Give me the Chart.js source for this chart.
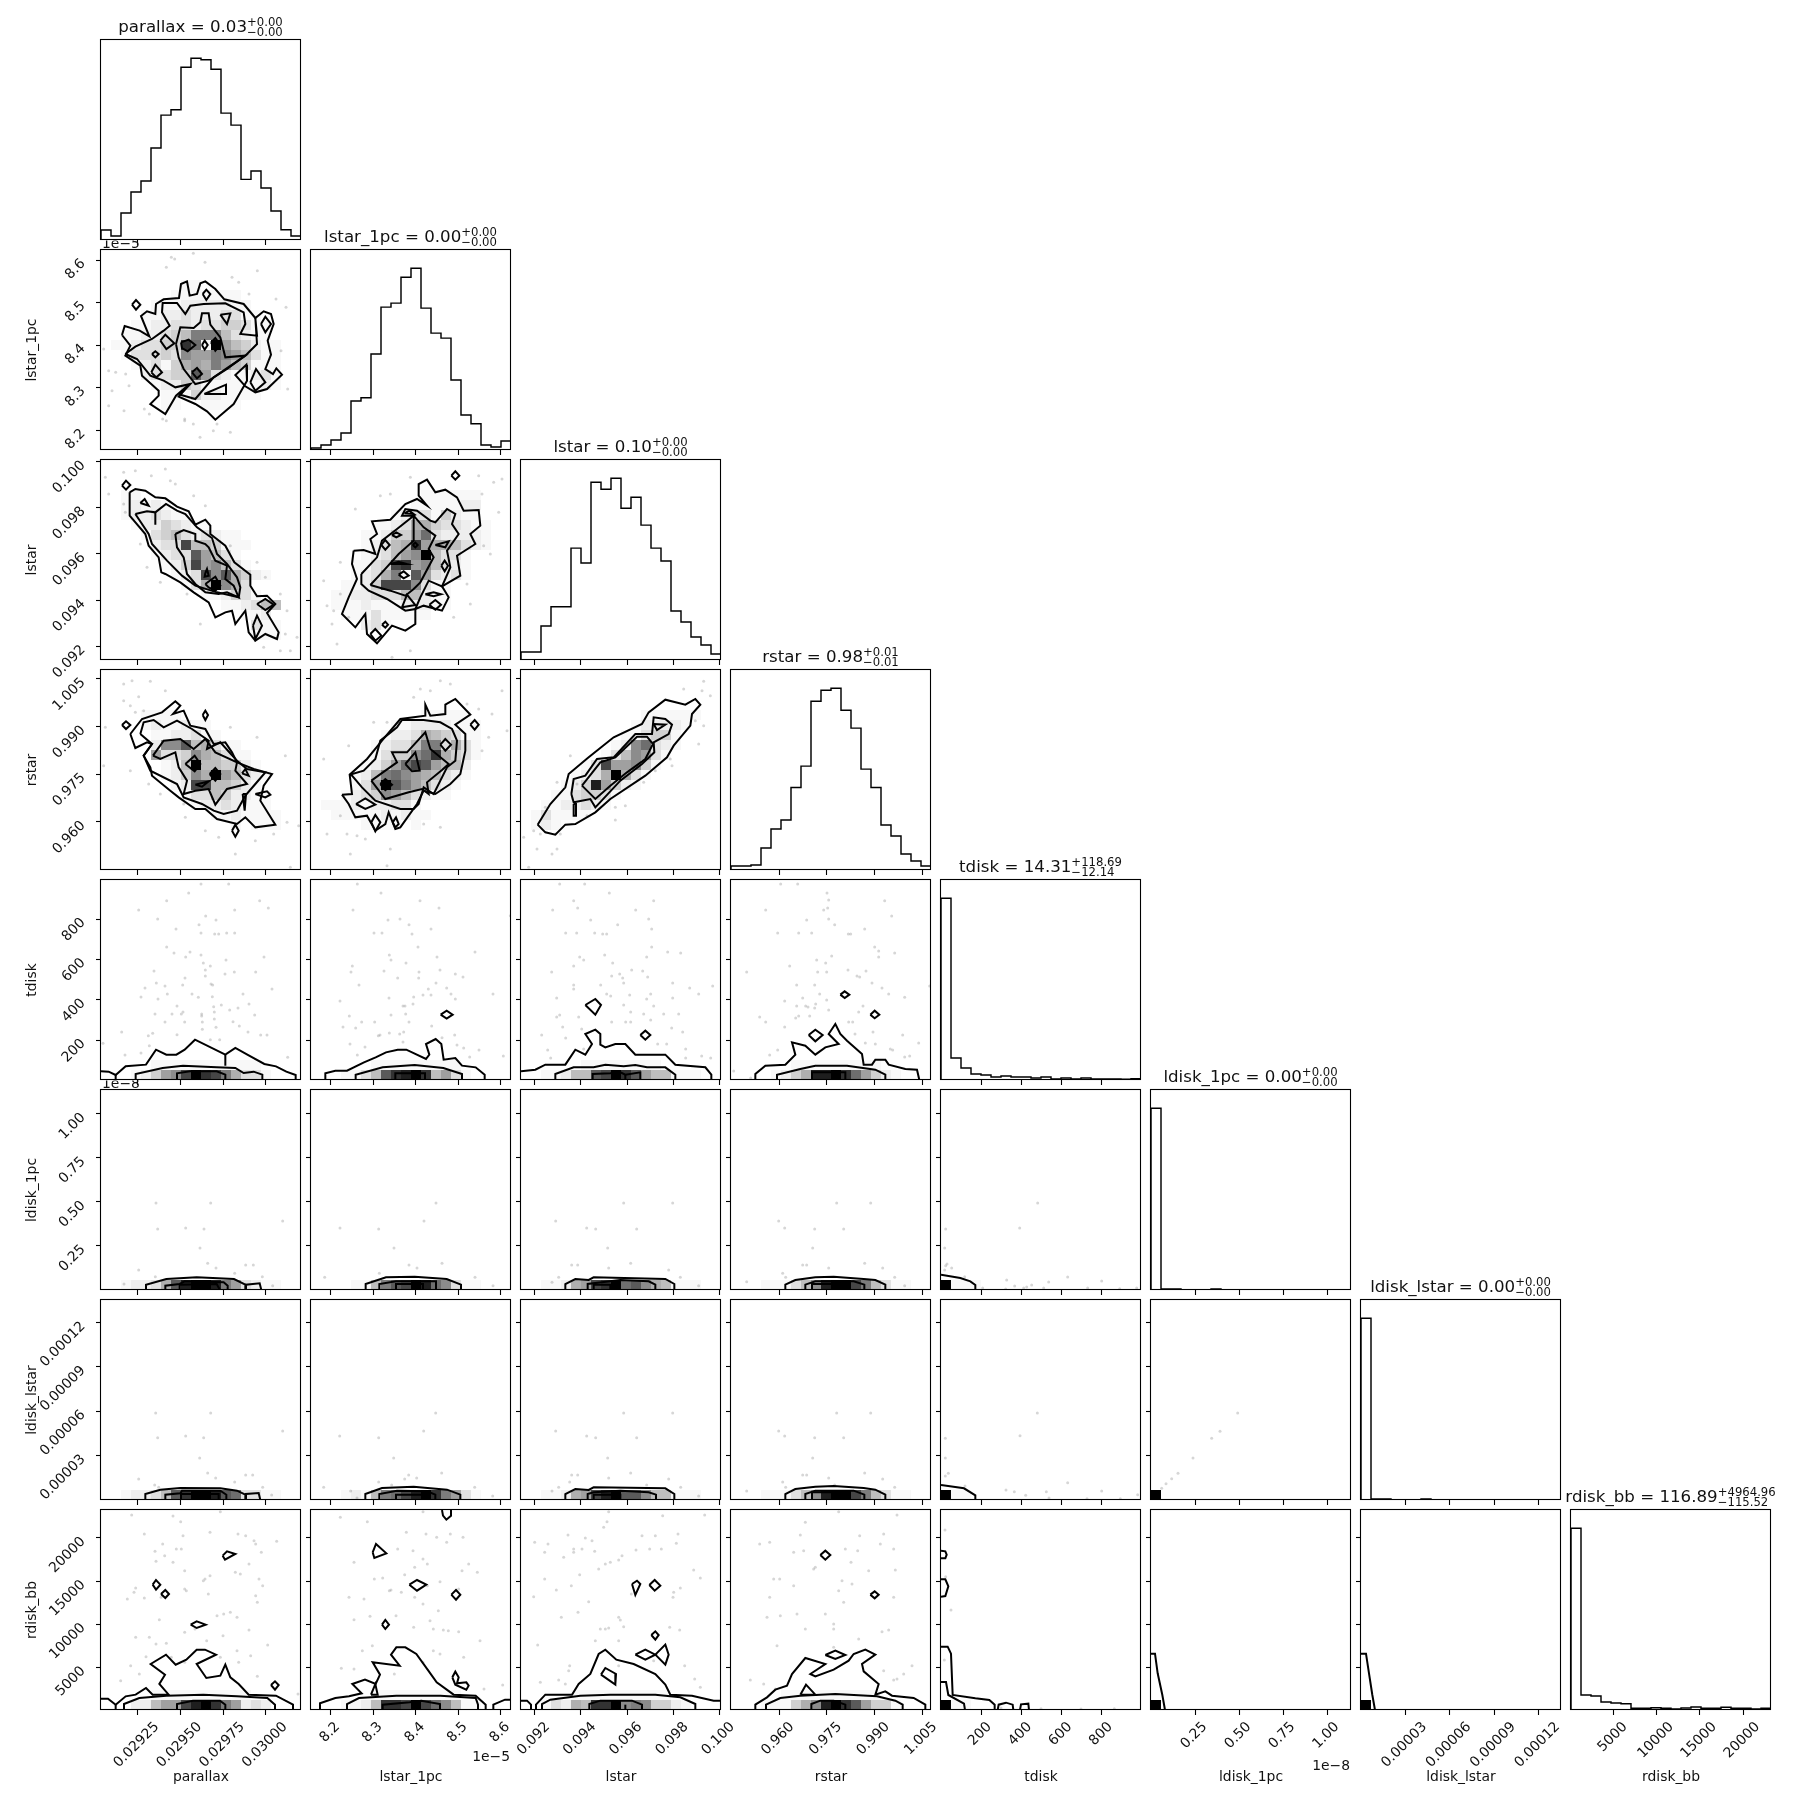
<!DOCTYPE html>
<html><head><meta charset="utf-8">
<style>html,body{margin:0;padding:0;background:#fff}#fig{position:relative;width:1809px;height:1809px;overflow:hidden}canvas{position:absolute}</style>
<script src="https://cdn.jsdelivr.net/npm/chart.js@4"></script>
</head><body><div id="fig"></div>
<script>
const names=["parallax","lstar_1pc","lstar","rstar","tdisk","ldisk_1pc","ldisk_lstar","rdisk_bb"];
const ranges=[[0.029036,0.030205],[8.153e-5,8.6236e-5],[0.091408,0.100072],[0.944895,1.007832],[1.65,993.4],[0,1.136e-8],[0,1.353e-4],[62,23242]];
const tickValues=[[0.02925,0.0295,0.02975,0.03],[8.2e-5,8.3e-5,8.4e-5,8.5e-5,8.6e-5],[0.092,0.094,0.096,0.098,0.1],[0.96,0.975,0.99,1.005],[200,400,600,800],[0.25e-8,0.5e-8,0.75e-8,1e-8],[3e-5,6e-5,9e-5,12e-5],[5000,10000,15000,20000]];
const tickLabels=[["0.02925","0.02950","0.02975","0.03000"],["8.2","8.3","8.4","8.5","8.6"],["0.092","0.094","0.096","0.098","0.100"],["0.960","0.975","0.990","1.005"],["200","400","600","800"],["0.25","0.50","0.75","1.00"],["0.00003","0.00006","0.00009","0.00012"],["5000","10000","15000","20000"]];
const titleMain=["0.03","0.00","0.10","0.98","14.31","0.00","0.00","116.89"];
const titleUp=["+0.00","+0.00","+0.00","+0.01","+118.69","+0.00","+0.00","+4964.96"];
const titleDown=["\u22120.00","\u22120.00","\u22120.00","\u22120.01","\u221212.14","\u22120.00","\u22120.00","\u2212115.52"];
// ---- 1D histograms, 20 bins each, counts
const hist_parallax=[30,12,81,144,177,276,375,391,519,546,541,513,381,345,182,207,156,87,31,12];
const hist_lstar_1pc=[6,15,30,51,147,157,288,429,441,519,546,426,351,336,210,105,79,15,9,27];
const hist_lstar=[24,24,102,160,160,336,291,534,513,546,456,489,405,336,297,147,114,69,45,18];
const hist_rstar=[12,12,15,66,123,150,248,312,507,540,546,480,426,303,248,135,102,48,27,12];
const hist_tdisk=[546,66,36,18,15,9,12,9,9,6,9,3,6,3,6,3,3,3,2,4];
const hist_ldisk_1pc=[546,3,3,1,1,1,3,1,1,1,1,1,0,0,1,1,0,0,0,1];
const hist_ldisk_lstar=[546,3,3,1,1,1,3,1,0,1,1,1,0,0,1,1,0,0,0,1];
const hist_rdisk_bb=[546,45,42,24,21,19,5,5,7,5,3,6,9,5,5,8,5,5,3,5];
const hists=[hist_parallax,hist_lstar_1pc,hist_lstar,hist_rstar,hist_tdisk,hist_ldisk_1pc,hist_ldisk_lstar,hist_rdisk_bb];
// ---- 2D panels: contours as (x,y) pairs on the 20-bin grid (30 steps per bin, y counted from the top),
// density rows as [row, one hex level per bin], samples as (x,y) pairs on the same grid
const contour_1_0=[[63,255,71,228,116,242,145,259,120,198,138,184,163,192,165,162,188,148,234,144,240,102,258,94,266,137,288,132,298,100,313,94,343,117,370,148,428,162,463,204,488,184,510,192,518,222,500,272,510,314,493,357,516,372,526,355,543,374,498,417,463,427,433,409,403,375,436,344,438,392,398,462,343,509,318,484,283,462,233,440,263,404,225,437,193,492,148,462,173,437,173,422,123,377,118,347,73,317,88,287],
[73,312,103,290,153,267,188,242,206,227,183,187,185,159,228,159,253,192,268,167,308,162,373,160,428,187,433,222,418,252,468,257,463,204,468,282,433,317,338,382,283,447,238,434,268,402,223,412,188,392,148,377,108,327],
[225,282,238,232,278,234,298,217,303,190,323,190,328,224,358,262,373,322,433,317,378,357,323,392,283,402,248,357,233,322],
[93,164,105,150,118,164,105,179],[305,132,316,119,328,132,316,150],[480,222,493,200,510,222,493,247],[358,194,388,190,378,222],[178,272,193,254,220,280,196,297],[153,312,163,304,173,312,163,322],[151,367,163,344,183,367,166,382],[273,367,288,354,303,372,288,385],[240,277,263,269,283,285,260,304,243,294],[303,285,311,272,320,285,311,299],[330,277,343,264,358,285,343,302],[310,432,375,432,375,404],[448,397,465,357,493,397,463,422]];
const cells_1_0=[[3,"00000000110000000000"],[4,"00000001111111000000"],[5,"00000111222221100000"],[6,"00001122322233110000"],[7,"00011223323344311000"],[8,"00112234599953211000"],[9,"01123344da1f75421100"],[10,"00133343877987531100"],[11,"00012314676975411100"],[12,"000023344b7321123100"],[13,"00000122431111112100"],[14,"00000011142211110000"],[15,"00000011001111000000"]];
const dots_1_0=[211,22,221,27,277,10,312,37,196,52,469,62,525,147,555,172,444,132,413,97,393,82,23,362,44,367,74,372,84,407,69,482,23,467,130,477,185,507,251,507,277,522,388,547,348,522,560,417,540,302,8,297,33,422,145,492,337,542,297,562,196,512,251,512];
const contour_2_0=[[86,97,103,87,133,92,163,112,193,115,228,140,263,154,283,194,313,179,328,197,328,222,373,257,400,307,448,344,448,377,468,409,498,407,523,432,498,459,533,517,528,537,493,522,463,542,443,517,433,452,403,492,393,452,373,457,343,472,323,427,278,397,238,367,193,342,181,337,173,292,143,257,133,222,86,167],
[103,162,138,154,163,157,195,132,228,152,253,162,288,202,333,234,348,282,378,312,408,352,418,382,413,412,348,397,283,377,243,347,198,302,153,252,143,222],[163,157,163,194],
[223,222,248,210,283,222,283,242,313,252,323,262,343,302,378,317,373,357,398,377,413,412,378,397,353,402,313,397,283,372,258,342,248,292,228,262],
[63,77,75,62,88,75,75,89],[118,129,131,117,143,137],[313,339,318,327,323,347,311,350],[313,372,343,350,358,377,343,392,323,382],[468,432,493,417,518,434,493,450],[456,497,468,467,483,497,463,537]];
const cells_2_0=[[3,"00110000000000000000"],[4,"00121210000000000000"],[5,"00122321100000000000"],[6,"00012243211000000000"],[7,"00001345323211000000"],[8,"00000233c55411100000"],[9,"000001233b7531000000"],[10,"000000124c7853100000"],[11,"0000000123c8b6421000"],[12,"00000000136f86300000"],[13,"00000000001124310000"],[14,"00000000000011235500"],[15,"00000000000000112000"],[16,"00000000000000031100"],[17,"00000000000000011100"]];
const dots_2_0=[13,52,68,37,103,32,151,47,193,27,208,62,223,72,278,107,313,137,23,102,68,132,73,157,388,257,468,307,493,352,538,402,558,452,553,522,568,572,298,492,258,402,178,367,138,322,118,252,588,532,488,562,538,572];
const contour_2_1=[[128,272,158,270,193,282,178,237,198,222,183,184,238,179,283,132,318,117,348,137,323,107,323,72,348,59,373,97,403,89,438,112,458,152,503,150,508,197,478,222,493,252,438,287,448,347,393,379,413,412,393,452,338,437,313,447,313,492,283,512,243,497,198,550,168,522,163,462,133,502,93,462,113,412,138,357,123,312],
[151,342,198,292,213,242,258,207,308,167,273,167,283,147,318,152,358,182,373,187,408,147,433,162,423,192,443,222,408,272,418,322,393,379,353,362,328,412,313,447,283,452,228,417,173,392,151,372],
[178,375,218,332,263,282,308,242,308,167,338,202,373,227,353,267,368,292,328,367,308,387,283,407,238,392],
[421,47,433,34,445,47,433,59],[243,225,256,217,270,225,256,232],[211,255,223,240,236,255,223,269],[373,255,413,244,403,262],[391,317,401,302,411,317,401,334],[238,312,288,312,263,305],[263,344,278,334,293,347,278,355],[343,403,368,397,390,403,368,409],[355,434,373,420,390,434,373,449],[213,494,223,485,231,494,223,503],[178,522,193,507,211,527,193,542],[273,442,288,404,313,435],[280,160,308,162,295,152],[305,255,313,248,320,255,313,262]];
const cells_2_1=[[3,"00000000000111111000"],[4,"00000000001111122000"],[5,"00000000123314211000"],[6,"00000011236643321100"],[7,"000001124 47a32222100".replace(" ","")],[8,"0000012356d766532100"],[9,"00000123578f53310000"],[10,"00001134cd7853210000"],[11,"0000123691b732310000"],[12,"0001124ccc8311000000"],[13,"00112233355211000000"],[14,"00111211122211000000"],[15,"00011131111100000000"],[16,"00000231000000000000"]];
const dots_2_1=[298,52,503,47,548,67,573,57,513,102,563,157,208,107,238,102,133,147,88,307,38,362,88,402,48,437,68,452,63,492,78,552,518,257,538,282,468,372,478,432,428,472,298,572,243,592,113,472];
const contour_3_0=[[88,192,123,147,183,127,223,94,238,107,216,132,248,122,268,167,313,177,338,222,373,217,393,247,408,277,458,297,513,312,488,347,478,392,523,464,463,472,433,442,408,462,348,447,313,417,283,417,233,382,208,362,153,317,148,292,128,257,153,222,138,217,103,234],
[118,192,128,157,158,150,188,172,228,152,273,177,323,212,318,237,358,217,408,272,438,297,493,307,463,342,433,377,408,422,368,432,338,422,303,402,248,382,228,342,148,302,128,257,153,222],
[156,257,188,212,238,207,278,237,313,207,343,247,408,277,403,302,438,342,378,357,343,404,323,357,283,362,248,372,258,332,233,292,223,247,178,267],
[63,165,75,154,88,165,75,177],[305,135,313,122,321,135,313,150],[253,282,281,257,298,282,281,304],[326,312,343,294,358,312,343,332],[283,344,323,334,303,350],[423,310,433,297,443,317],[463,372,498,364,508,374,493,382],[425,372,435,372,431,422],[393,482,403,464,413,482,403,500]];
const cells_3_0=[[4,"00001111000000000000"],[5,"00001211211000000000"],[6,"00000112231100000000"],[7,"00000288b56311000000"],[8,"00000733486531100000"],[9,"000000125f5544210000"],[10,"00000012486f75321000"],[11,"000000012cc554210000"],[12,"00000000133542211000"],[13,"00000000012232111000"],[14,"00000000000112111100"],[15,"00000000000001011100"]];
const dots_3_0=[68,42,93,32,113,80,148,34,193,62,68,92,88,107,103,127,128,122,13,172,8,287,88,302,143,342,178,372,253,442,248,402,313,482,353,502,403,552,463,512,518,492,558,457,593,467,568,592,388,172,468,202,553,257];
const contour_3_1=[[93,374,123,372,116,314,168,267,213,212,268,147,308,142,343,137,343,104,358,137,403,132,403,104,433,87,478,134,433,164,463,192,463,242,448,312,418,342,373,372,338,362,318,402,293,437,268,472,253,477,233,427,223,462,193,482,168,437,133,442,113,402],
[116,314,158,302,193,267,208,212,258,172,273,150,338,150,388,157,423,177,438,212,433,272,408,292,368,372,338,352,323,402,308,417,268,417,193,392,153,352,123,317],
[181,332,223,302,258,277,243,247,288,247,343,187,358,237,413,282,393,300,348,337,353,372,333,357,293,367,223,387],
[478,164,491,150,503,164,491,179],[388,224,403,207,420,224,403,242],[283,282,313,247,326,302,303,304],[208,342,223,327,243,344,223,360],[135,402,163,385,193,404,163,417],[181,457,193,435,208,457,193,484],[245,457,255,442,263,462,253,472]];
const cells_3_1=[[4,"00000000000111110000"],[5,"00000000112222111000"],[6,"00000001223654311000"],[7,"00000012335993631000"],[8,"00000013448ad6431000"],[9,"000001247acb75520000"],[10,"00001259a87653210000"],[11,"0000137fb97532100000"],[12,"00012348753211000000"],[13,"01112122331000000000"],[14,"00111112121100000000"],[15,"00000111101000000000"]];
const dots_3_1=[308,82,328,57,358,62,388,32,418,42,468,102,503,117,543,132,573,62,588,182,513,242,533,202,38,267,113,227,188,157,228,157,88,437,48,492,108,492,138,497,163,507,238,537,118,552,228,587,338,462,388,472];
const contour_3_2=[[50,464,88,402,133,352,143,312,203,262,278,202,363,162,383,127,433,89,493,104,523,87,538,104,513,132,508,167,458,227,438,262,373,317,268,387,223,427,163,462,133,464,103,494,73,487],
[151,372,158,327,193,317,228,267,278,262,343,192,393,192,398,142,433,147,453,164,443,192,398,217,400,247,363,282,298,332,223,412,208,387,158,397],
[183,347,238,277,283,262,348,200,378,200,396,222,373,267,318,307,268,347,223,387],[398,162,433,164,408,180],[158,402,165,402,165,437,158,437]];
const cells_3_2=[[4,"00000000000011111100"],[5,"00000000000122221000"],[6,"00000000001134410000"],[7,"000000000128a3210000"],[8,"00000000135873100000"],[9,"00000013c77841000000"],[10,"000001236f6310000000"],[11,"0000124e742100000000"],[12,"00011344310000000000"],[13,"00112232100000000000"],[14,"01311110000000000000"],[15,"01210000000000000000"]];
const dots_3_2=[548,34,543,62,568,77,488,57,548,167,523,152,448,267,533,222,453,287,403,302,368,337,313,407,283,412,283,450,198,437,148,257,108,337,73,412,38,482,8,502,58,492,103,492,118,492,48,537,93,552,108,537,23,592,168,342];
const contour_4_0=[[0,574,23,575,44,585,74,559,135,554,165,509,196,524,226,524,251,509,282,479,373,524,403,504,439,524,490,552,525,559,556,575,584,585,584,600],[44,585,44,600],[373,524,373,557],[104,600,104,582,185,564,246,557,347,562,403,564,428,579,458,575,484,584,484,600],[228,600,228,580,267,574,347,574,373,584,373,600]];
const cells_4_0=[[18,"00000111111111110000"],[19,"00012478cfdc96331000"]];
const dots_4_0=[300,12,383,12,263,39,197,62,113,90,476,62,502,84,401,90,314,108,170,117,345,120,294,134,225,147,300,159,341,162,353,162,377,159,401,159,197,201,219,219,267,216,300,225,254,231,375,240,489,231,307,249,328,258,159,273,313,270,313,288,372,282,400,276,464,276,252,294,166,309,192,318,132,324,245,315,330,312,335,315,513,327,120,351,171,357,199,342,273,342,292,352,334,350,426,342,444,372,228,378,246,396,241,402,162,402,213,402,302,402,338,380,361,375,386,390,411,384,461,405,340,396,340,417,302,408,192,426,251,426,304,448,345,442,396,425,415,438,62,456,142,467,155,460,304,426,228,464,441,456,479,465,498,465,328,479,356,479,145,497,72,525,120,519,560,532,6,490];
const contour_4_1=[[43,600,43,580,73,572,108,572,159,547,194,532,225,517,260,509,286,509,345,537,355,524,345,492,374,477,391,492,398,539,433,534,453,557,494,562,521,584,521,600],[134,600,134,584,215,562,311,555,397,564,453,582,453,600],[253,600,253,580,342,580,342,600],[389,404,407,392,425,404,407,416]];
const cells_4_1=[[18,"00000011111111100000"],[19,"0001135bdefd57310000"]];
const dots_4_1=[139,12,210,39,327,62,126,90,384,84,231,120,267,117,294,134,360,147,189,159,213,159,303,162,321,201,492,216,235,225,240,240,378,231,285,249,124,258,120,276,219,273,324,276,387,270,456,291,433,282,260,294,144,315,375,309,323,294,352,327,407,324,234,354,308,351,336,345,360,345,420,342,433,357,546,342,87,363,276,378,282,378,306,372,115,408,240,405,284,402,294,426,152,426,191,426,96,441,134,444,362,438,393,473,431,465,235,459,266,462,278,456,207,465,202,467,117,492,162,501,276,486,438,495,458,504,504,510,577,528,139,525,476,531,598,107];
const contour_4_2=[[0,574,43,569,73,554,133,554,163,509,193,524,213,492,193,462,223,449,238,462,238,494,253,502,283,492,313,492,343,524,433,524,463,554,553,562,571,584,571,600],[103,600,103,582,158,562,218,562,253,554,308,559,343,555,378,562,433,562,463,584,463,600],[215,600,215,582,268,580,298,577,313,584,358,577,358,600],[313,584,313,600],[193,375,223,357,240,375,223,404],[358,465,373,452,388,465,373,479]];
const cells_4_2=[[18,"00000011111111000000"],[19,"0011255bcfdb75511100"]];
const dots_4_2=[116,12,191,12,265,39,158,62,398,62,95,90,170,84,344,90,209,120,383,117,290,134,134,159,167,159,221,159,245,162,257,162,392,147,392,201,440,216,479,219,176,231,188,240,251,225,377,231,158,258,275,249,92,276,332,270,365,273,272,288,296,282,305,294,380,291,455,309,308,309,158,315,158,327,239,315,506,324,575,318,533,342,257,342,269,348,326,345,389,342,107,354,377,357,455,354,308,375,398,378,116,405,107,411,173,411,329,396,368,402,428,402,473,402,125,441,272,426,314,426,329,426,389,420,62,465,134,474,452,444,485,456,80,510,182,447,410,492,437,492,188,507,494,507,494,534,542,528,569,534,89,534];
const contour_4_3=[[73,600,73,582,103,557,163,554,193,524,183,487,223,497,253,524,283,502,323,492,293,462,313,432,328,462,348,482,393,522,398,554,423,554,433,539,463,539,473,554,523,567,558,569,565,600],[138,600,138,584,208,567,253,557,348,557,433,569,463,584,463,600],[243,600,243,577,343,577,343,600],[233,465,253,449,275,465,253,484],[328,344,341,334,355,344,341,354],[418,404,431,392,445,404,431,415]];
const cells_4_3=[[18,"00000011111111100000"],[19,"00001246eefda7421000"]];
const dots_4_3=[149,12,200,12,288,39,293,60,461,62,104,90,278,90,290,84,227,120,293,117,482,108,311,134,140,159,203,159,242,159,352,162,359,162,401,147,431,201,491,219,443,231,443,213,302,228,257,240,284,249,351,270,176,258,405,273,47,276,260,276,287,276,378,288,386,291,251,315,197,315,423,309,453,324,266,342,473,342,521,352,161,363,215,354,287,360,224,378,231,381,197,378,254,372,251,384,396,378,383,396,86,411,194,414,203,408,236,408,293,390,353,426,365,426,104,426,426,456,515,465,161,441,372,462,403,489,563,489,140,510,116,525,433,492,478,507,485,510,521,531,536,528,596,318,8,573,59,594];
const contour_5_0=[[135,600,135,584,196,567,287,562,399,567,433,584,433,600],[435,600,435,584,476,580,481,600],[193,600,193,587,236,582,251,574,368,577,380,587,380,600],[236,600,236,584,347,582,357,600]];
const cells_5_0=[[19,"0012236beffe97321100"]];
const dots_5_0=[165,339,329,339,170,417,254,414,309,417,545,393,297,474,320,520,345,534,113,540,163,560,401,550,434,525,457,525,484,560,515,587,69,582];
const contour_5_1=[[164,600,164,582,225,562,311,560,407,567,450,584,450,600],[205,600,205,582,255,574,375,574,375,600],[255,600,255,582,336,582,336,600]];
const cells_5_1=[[19,"00001159bcfea8311000"]];
const dots_5_1=[375,339,339,393,87,414,203,417,249,474,294,525,318,534,393,520,205,550,41,562,492,562,546,587];
const contour_5_2=[[133,600,133,582,163,567,203,570,218,562,433,567,460,582,460,600],[200,600,200,582,298,570,383,574,403,584,403,600],[218,600,218,584,268,584,268,600]];
const cells_5_2=[[19,"0011267cdfab86511100"]];
const dots_5_2=[308,339,455,339,104,393,197,414,224,417,347,417,260,474,152,525,170,525,329,520,263,534,443,540,113,562,478,562,93,577,533,587];
const contour_5_3=[[163,600,163,584,193,570,253,562,308,560,398,567,433,570,463,584,463,600],[223,600,223,584,253,574,368,574,400,584,400,600],[243,600,243,582,328,582,343,587,343,600]];
const cells_5_3=[[19,"000111358effc9531100"]];
const dots_5_3=[317,339,419,339,143,393,161,414,251,417,338,417,245,474,215,525,227,525,401,520,293,534,455,534,155,550,164,562,491,562,47,575,521,587];
const contour_5_4=[[0,554,58,564,88,574,103,585,103,600]];
const cells_5_4=[[19,"f1110000000000000000"]];
const dots_5_4=[290,339,236,414,14,417,11,474,18,522,14,527,32,534,11,540,197,570,323,576,380,561,482,573,221,588,272,585,257,591,248,594,308,594,440,594,536,596,587,594,125,594,194,597,71,560];
const contour_6_0=[[133,600,133,582,178,569,238,564,358,565,408,572,433,584,433,600],[435,600,435,582,473,579,478,600],[193,600,193,584,238,580,243,572,358,572,376,584,376,600],[240,600,240,582,353,582,353,600]];
const cells_6_0=[[19,"0012235bdffeba331100"]];
const dots_6_0=[164,339,329,339,545,393,170,413,254,408,308,413,296,474,113,537,320,519,344,534,434,525,455,525,401,546,161,555,173,562,485,562,512,585];
const contour_6_1=[[163,600,163,582,213,564,308,560,408,569,448,584,448,600],[205,600,205,582,258,572,348,574,373,584,373,600],[255,600,255,584,333,584,333,600]];
const cells_6_1=[[19,"00012159acefd9731000"]];
const dots_6_1=[374,339,338,393,86,408,203,413,248,474,293,525,317,534,392,519,281,537,203,546,242,555,38,562,119,573,491,562,545,588,138,594];
const contour_6_2=[[133,600,133,582,163,567,203,570,218,562,433,565,460,582,460,600],[200,600,200,582,218,577,298,572,383,577,405,584,405,600],[218,600,218,584,298,584,298,600]];
const cells_6_2=[[19,"0011267cefbb85511100"]];
const dots_6_2=[308,339,455,339,104,393,197,408,224,413,347,413,260,474,152,525,170,525,329,519,263,534,443,537,146,546,113,562,479,562,377,555,533,588,93,573];
const contour_6_3=[[163,600,163,582,193,567,253,560,308,558,398,564,433,569,463,584,463,600],[223,600,223,582,253,572,368,572,400,584,400,600],[243,600,243,577,345,577,345,600]];
const cells_6_3=[[19,"000111358effc9531100"]];
const dots_6_3=[317,339,419,339,143,393,161,408,251,413,338,413,245,474,215,525,227,525,401,519,293,534,455,537,155,546,164,562,491,562,47,573,311,555];
const contour_6_4=[[0,555,69,565,103,586,103,600]];
const cells_6_4=[[19,"f1100000000000000000"]];
const dots_6_4=[289,339,237,407,13,415,13,474,22,520,13,528,72,558,195,570,380,548,482,573,316,575,220,575,254,586,324,594,438,596,538,596,590,584];
const cells_6_5=[[19,"f0000000000000000000"]];
const dots_6_5=[260,339,207,394,182,415,126,474,81,520,62,536,45,551,32,565];
const contour_7_0=[[0,566,21,566,44,584,74,559,104,554,135,534,155,554,203,554,175,522,192,494,149,462,195,434,224,464,256,449,287,419,312,419,345,434,287,462,316,504,358,497,373,464,388,502,413,522,443,554,525,557,576,584,576,600],[44,584,44,600],[69,600,69,582,115,564,196,557,307,554,408,559,499,564,522,584,522,600],[228,600,228,582,276,572,357,572,373,584,373,600],[155,224,165,210,178,224,165,239],[180,252,193,240,204,252,193,264],[269,344,287,334,314,344,287,354],[365,137,378,124,403,132,372,149],[510,525,522,514,533,525,522,539]];
const cells_7_0=[[18,"00000111111111100000"],[19,"00022577cefd97232000"]];
const dots_7_0=[92,15,216,18,239,35,358,5,130,72,327,67,246,77,411,72,434,77,459,92,464,102,527,94,185,102,226,117,162,124,241,117,191,137,165,154,216,157,251,182,307,212,312,207,444,162,481,127,403,187,418,192,327,197,474,207,485,227,464,257,469,277,104,234,99,247,79,267,130,264,256,242,251,237,180,262,322,252,348,317,368,312,388,307,408,322,175,329,251,367,282,357,104,382,145,382,317,392,165,402,196,400,500,405,408,422,444,360,135,440,211,442,358,442,89,467,115,492,413,457,469,499,251,457,59,512,591,552,449,437,366,377];
const contour_7_1=[[27,600,27,580,73,564,114,559,152,550,124,522,162,509,194,522,207,494,185,457,266,467,240,434,256,412,283,412,316,432,352,482,377,517,428,554,494,557,524,584,524,600],[547,600,547,584,582,569,600,569],[180,554,193,522,200,554],[108,600,108,582,144,564,256,557,388,557,494,564,501,584,501,600],[215,600,215,584,296,577,331,572,387,582,387,600],[185,127,195,102,226,130,190,144],[295,224,318,210,346,224,318,242],[213,344,223,330,234,344,223,357],[421,254,435,240,448,254,435,269],[393,0,396,17,406,29,420,17,420,0],[424,502,433,485,443,502,438,520,466,517,473,527,466,539,433,524]];
const cells_7_1=[[18,"00000011111111100000"],[19,"0001125ddcfca8511000"]];
const dots_7_1=[336,5,88,22,169,35,286,67,345,72,418,72,456,82,377,82,407,97,306,122,260,117,336,147,349,162,311,172,129,157,473,162,499,187,453,182,281,194,215,204,190,207,387,215,349,227,240,240,271,247,235,242,114,262,159,267,311,262,443,237,336,282,382,302,129,329,177,319,255,317,357,332,308,352,367,357,397,360,412,362,443,365,507,392,184,407,154,422,387,432,367,422,458,442,336,457,91,475,129,477,250,492,575,525,519,537];
const contour_7_2=[[45,600,45,584,73,554,153,554,173,522,208,492,233,432,253,419,286,449,338,462,403,492,433,524,448,554,513,557,578,572,598,572],[0,572,18,572,30,584,30,600],[63,600,63,582,88,569,178,557,268,554,403,554,478,562,523,582,523,600],[205,600,205,582,238,572,333,572,363,584,363,600],[313,600,313,584],[333,222,348,212,358,222,343,255],[385,225,401,210,418,227,401,242],[391,375,403,364,413,375,403,389],[343,434,373,419,403,434,373,449],[403,434,433,404,443,434,433,464],[240,494,253,474,285,492,283,524]];
const cells_7_2=[[18,"00000111111111100000"],[19,"0013265ddf8984421000"]];
const dots_7_2=[263,5,258,35,248,52,141,75,41,97,81,102,71,127,128,142,158,127,183,117,193,84,213,92,158,117,221,124,303,137,268,157,293,150,233,177,253,162,345,120,386,117,421,117,471,72,363,77,425,17,551,15,403,77,466,100,176,194,71,207,106,240,151,227,38,260,203,275,331,252,458,247,456,262,478,234,518,180,538,204,171,307,293,322,298,330,121,322,238,357,253,357,263,354,308,350,446,352,476,360,50,405,223,392,293,392,146,467,143,482,113,510,133,522,58,517,293,467,398,452,491,467,521,507,538,532];
const contour_7_3=[[73,600,73,584,108,562,133,539,168,527,183,492,223,444,283,462,238,492,253,499,308,479,353,452,368,432,403,419,433,434,393,462,398,484,443,522,433,554,463,544,483,557,548,564,583,584,583,600],[105,600,105,584,148,564,208,557,313,552,438,559,493,572,515,584,515,600],[241,600,241,582,268,572,308,572,343,584,343,600],[268,135,283,122,298,135,283,149],[418,254,431,244,443,254,431,265],[283,435,313,422,343,435,313,447],[208,554,225,524,253,554]];
const cells_7_3=[[18,"00000111111111100000"],[19,"000111468efdb7441000"]];
const dots_7_3=[323,5,498,15,223,37,208,75,386,77,458,72,86,102,116,97,188,127,218,122,253,172,343,117,380,122,448,102,488,117,360,157,493,180,248,177,413,182,128,207,146,207,188,227,333,212,323,242,338,277,488,262,363,222,116,262,198,312,148,317,108,322,283,312,308,342,308,357,453,365,383,387,223,357,138,407,308,412,473,360,543,467,518,492,488,510,498,507,458,482,98,522,58,510,133,537];
const contour_7_4=[[0,410,20,410,30,431,35,555,103,565,145,570,161,584,161,600],[170,600,173,584,195,578,215,584,217,600],[237,600,240,583,262,581,264,600],[0,516,15,516,22,555,69,581,72,600],[0,122,13,124,17,134,13,145,0,145],[0,208,13,208,22,229,13,258,0,260]];
const cells_7_4=[[19,"f1100000000000000000"]];
const dots_7_4=[300,596,420,597,520,596,180,594,30,300,10,450,14,200,12,60];
const contour_7_5=[[0,431,12,431,20,490,34,555,42,600]];
const cells_7_5=[[19,"f0000000000000000000"]];
const contour_7_6=[[0,431,15,431,24,490,34,555,42,600]];
const cells_7_6=[[19,"f0000000000000000000"]];
const panels={"1_0":[contour_1_0,cells_1_0,dots_1_0],"2_0":[contour_2_0,cells_2_0,dots_2_0],"2_1":[contour_2_1,cells_2_1,dots_2_1],"3_0":[contour_3_0,cells_3_0,dots_3_0],"3_1":[contour_3_1,cells_3_1,dots_3_1],"3_2":[contour_3_2,cells_3_2,dots_3_2],"4_0":[contour_4_0,cells_4_0,dots_4_0],"4_1":[contour_4_1,cells_4_1,dots_4_1],"4_2":[contour_4_2,cells_4_2,dots_4_2],"4_3":[contour_4_3,cells_4_3,dots_4_3],"5_0":[contour_5_0,cells_5_0,dots_5_0],"5_1":[contour_5_1,cells_5_1,dots_5_1],"5_2":[contour_5_2,cells_5_2,dots_5_2],"5_3":[contour_5_3,cells_5_3,dots_5_3],"5_4":[contour_5_4,cells_5_4,dots_5_4],"6_0":[contour_6_0,cells_6_0,dots_6_0],"6_1":[contour_6_1,cells_6_1,dots_6_1],"6_2":[contour_6_2,cells_6_2,dots_6_2],"6_3":[contour_6_3,cells_6_3,dots_6_3],"6_4":[contour_6_4,cells_6_4,dots_6_4],"6_5":[[],cells_6_5,dots_6_5],"7_0":[contour_7_0,cells_7_0,dots_7_0],"7_1":[contour_7_1,cells_7_1,dots_7_1],"7_2":[contour_7_2,cells_7_2,dots_7_2],"7_3":[contour_7_3,cells_7_3,dots_7_3],"7_4":[contour_7_4,cells_7_4,dots_7_4],"7_5":[contour_7_5,cells_7_5,[]],"7_6":[contour_7_6,cells_7_6,[]]};

const GRAYS=[255,248,238,224,208,190,175,160,140,125,110,90,70,50,30,0];
const FONT='"DejaVu Sans"';
const PW=200,PH=200,X0=101,Y0=40,STEP=210;
Chart.defaults.font.family=FONT;
const fig=document.getElementById("fig");
const xv=(g,r)=>r[0]+g/600*(r[1]-r[0]);
const yv=(g,r)=>r[1]-g/600*(r[1]-r[0]);

const frame={id:"corner",afterDraw(ch,a,o){
  const {ctx,chartArea:A,scales:S}=ch;const {r,c}=o;
  ctx.save();ctx.strokeStyle="#000";ctx.lineWidth=1.1;
  ctx.strokeRect(A.left-.5,A.top-.5,PW,PH);
  ctx.fillStyle="#111";ctx.textAlign="center";ctx.textBaseline="middle";
  ctx.font="13.9px "+FONT;
  if(r===7){S.x.ticks.forEach(t=>{const w=ctx.measureText(t.label).width;
    const px=S.x.getPixelForValue(t.value)-1,py=A.bottom+9.7+(w+14)*.354;
    ctx.save();ctx.translate(px,py);ctx.rotate(-Math.PI/4);ctx.fillText(t.label,0,0);ctx.restore();});
    if(c===1||c===5){ctx.textAlign="right";ctx.textBaseline="alphabetic";ctx.fillText(c===1?"1e\u22125":"1e\u22128",A.right-1,A.bottom+(c===1?51:60));ctx.textAlign="center";ctx.textBaseline="middle";}
  }
  if(c===0&&r>0){S.y.ticks.forEach(t=>{const w=ctx.measureText(t.label).width;
    const px=A.left-14.2-(w+10)*.354,py=S.y.getPixelForValue(t.value)+(w+14)*.354-3.5;
    ctx.save();ctx.translate(px,py);ctx.rotate(-Math.PI/4);ctx.fillText(t.label,0,0);ctx.restore();});
    if(r===1||r===5){ctx.save();ctx.beginPath();ctx.rect(A.left-2,A.top-9.5,60,9.5);ctx.clip();ctx.textAlign="left";ctx.textBaseline="alphabetic";ctx.fillText(r===1?"1e\u22125":"1e\u22128",A.left+1,A.top-2.5);ctx.restore();}
  }
  if(r===c){
    const main=names[c]+" = "+titleMain[c];
    ctx.textBaseline="alphabetic";ctx.textAlign="left";
    ctx.font="16.67px "+FONT;const w1=ctx.measureText(main).width;
    ctx.font="11.67px "+FONT;const w2=Math.max(ctx.measureText(titleUp[c]).width,ctx.measureText(titleDown[c]).width);
    const sx=(A.left+A.right)/2-(w1+w2)/2-.5;
    ctx.font="16.67px "+FONT;ctx.fillText(main,sx,A.top-7.6);
    ctx.font="11.67px "+FONT;ctx.fillText(titleUp[c],sx+w1,A.top-14.3);ctx.fillText(titleDown[c],sx+w1,A.top-4.3);
  }
  ctx.restore();
}};

function axis(i,showTicks,L,title,isX,boxSize){
  return {type:"linear",position:isX?"bottom":"left",min:ranges[i][0],max:ranges[i][1],bounds:"data",
    afterBuildTicks:s=>{s.ticks=showTicks?tickValues[i].map(v=>({value:v})):[];},
    afterFit:s=>{if(isX)s.height=boxSize;else s.width=boxSize;},
    grid:{drawOnChartArea:false,drawTicks:true,tickLength:5,tickColor:"#000",tickWidth:1.1},
    border:{display:false},
    ticks:{display:false,autoSkip:false,callback:(v,k)=>tickLabels[i][k]},
    title:title?{display:true,text:names[i],color:"#111",font:{size:13.9,family:FONT},padding:isX?{top:0,bottom:14.5}:{top:23.7,bottom:0}}:{display:false}};
}

function build(r,c){
  const L=c===0?X0:41,T=r===0?Y0:30,R=40,B=r===7?90:30;
  const cv=document.createElement("canvas");
  const W=L+PW+R,H=T+PH+B;cv.width=W;cv.height=H;
  cv.style.left=(X0+STEP*c-L)+"px";cv.style.top=(Y0+STEP*r-T)+"px";cv.style.width=W+"px";cv.style.height=H+"px";
  fig.appendChild(cv);
  const xr=ranges[c];let yr,datasets=[];
  if(r===c){
    yr=[0,546*1.1];
    const pts=[{x:xr[0],y:0}];
    hists[c].forEach((h,k)=>{pts.push({x:xv(k*30,xr),y:h},{x:xv((k+1)*30,xr),y:h});});
    pts.push({x:xr[1],y:0});
    datasets.push({data:pts,showLine:true,pointRadius:0,borderColor:"#000",borderWidth:1.45,tension:0,clip:0,order:0,borderJoinStyle:"miter"});
  }else{
    yr=ranges[r];
    const [ct,cl,dt]=panels[r+"_"+c];
    ct.forEach(f=>{const p=[];for(let i=0;i<f.length;i+=2)p.push({x:xv(f[i],xr),y:yv(f[i+1],yr)});
      if(f[0]>0&&f[0]<600&&f[1]>0&&f[1]<600)p.push(p[0]);
      datasets.push({data:p,showLine:true,pointRadius:0,borderColor:"#000",borderWidth:2,tension:0,clip:0,order:0,borderJoinStyle:"miter"});});
    const dp=[];for(let i=0;i<dt.length;i+=2)dp.push({x:xv(dt[i],xr),y:yv(dt[i+1],yr)});
    if(dp.length)datasets.push({data:dp,showLine:false,pointRadius:1.5,pointBorderWidth:0,pointBackgroundColor:"rgba(0,0,0,0.16)",clip:0,order:1});
    const cp=[],cc=[];
    cl.forEach(([row,s])=>{[...s].forEach((ch,k)=>{const d=parseInt(ch,16);if(!d)return;
      cp.push({x:xv(k*30+15,xr),y:yv(row*30+15,yr)});const g=GRAYS[d];cc.push("rgb("+g+","+g+","+g+")");});});
    if(cp.length)datasets.push({data:cp,showLine:false,pointStyle:"rect",pointRadius:5*Math.SQRT2,pointBorderWidth:0,pointBackgroundColor:cc,clip:0,order:2});
  }
  const yScale=axis(r,r!==c,L,c===0&&r>0,false,L);
  if(r===c){yScale.min=yr[0];yScale.max=yr[1];}
  new Chart(cv,{type:"scatter",data:{datasets},plugins:[frame],options:{
    responsive:false,animation:false,devicePixelRatio:1,events:[],
    layout:{padding:{top:T,right:R,left:0,bottom:0}},
    plugins:{legend:{display:false},title:{display:false},tooltip:{enabled:false},corner:{r,c}},
    scales:{x:axis(c,true,L,r===7,true,B),y:yScale}}});
}
for(let r=0;r<8;r++)for(let c=0;c<=r;c++)build(r,c);
</script></body></html>
